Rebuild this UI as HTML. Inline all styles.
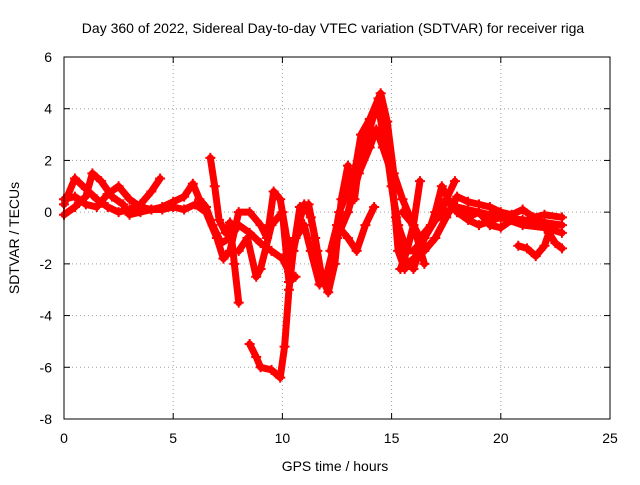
<!DOCTYPE html>
<html><head><meta charset="utf-8"><style>
body{margin:0;background:#fff;}
svg text{font-family:"Liberation Sans",sans-serif;font-size:14px;fill:#000;}
</style></head><body>
<svg id="chart" width="640" height="480" xmlns="http://www.w3.org/2000/svg">
<text x="333" y="33" text-anchor="middle">Day 360 of 2022, Sidereal Day-to-day VTEC variation (SDTVAR) for receiver riga</text>
<text x="335" y="471" text-anchor="middle">GPS time / hours</text>
<text transform="translate(19,238) rotate(-90)" text-anchor="middle">SDTVAR / TECUs</text>
<g id="grid"></g><g id="ticks"></g><g id="series"></g>
<rect x="64" y="57" width="546" height="362" fill="none" stroke="#000" stroke-width="1"/>
</svg>
<script>
const xTicks=[0,5,10,15,20,25];
const yTicks=[6,4,2,0,-2,-4,-6,-8];
const trackA=[[0,0.3],[0.5,1.3],[1,0.9],[1.5,0.5],[2,0.2],[2.5,0],[3,0.1],[3.5,0.3],[4,0.8],[4.4,1.3]];
const trackB=[[0,-0.1],[0.5,0.2],[1,0.6],[1.3,1.5],[1.7,1.2],[2.2,0.6],[2.7,0.3],[3,-0.1],[3.5,0],[4,0.1],[4.5,0.2],[5,0.4],[5.5,0.6],[5.9,1.1],[6.2,0.5],[6.5,0.2],[6.8,-0.5],[7.2,-1.2],[7.6,-1.0],[8,-0.5],[8.5,-0.8],[9,-1.2],[9.5,-1.5],[10,-1.8],[10.3,-2.3],[10.6,-1.0],[11,-0.5],[11.3,-1.5],[11.7,-2.8],[12,-2.5],[12.3,-1.5],[12.6,0],[13,0.8],[13.5,2.0],[14,3.2],[14.4,4.4],[14.7,3.0],[15,1.0],[15.3,-0.5],[15.7,-1.5],[16,-1.5],[16.5,-1.0],[17,-0.3],[17.5,0],[18,0.2],[19,0],[20,-0.2],[21,-0.3],[22,-0.4],[22.8,-0.5]];
const trackC=[[0,0.5],[0.5,0.6],[1,0.3],[1.5,0.2],[2,0.7],[2.5,1.0],[3,0.5],[3.5,0.2],[4,0.1],[4.5,0.1],[5,0.2],[5.5,0.1],[6,0.3],[6.5,0],[7,-1.0],[7.3,-1.8],[7.6,-1.5],[8,0],[8.5,0],[9,-0.5],[9.3,-1.0],[9.6,0.8],[9.9,0.5],[10.2,-1.0],[10.5,-1.5],[10.8,0.2],[11.2,0.3],[11.5,-1.0],[11.8,-2.5],[12.1,-3.1],[12.4,-2.0],[12.7,0.5],[13,1.8],[13.3,0.5],[13.6,2.5],[14,3.5],[14.4,4.0],[14.8,2.2],[15.2,-0.2],[15.6,-1.8],[16,-2.2],[16.4,-1.2],[16.8,-0.5],[17.2,0.2],[17.6,0.4],[18,0],[18.5,-0.3],[19,-0.5],[20,-0.2],[21,-0.5],[22,-0.6],[22.8,-0.8]];
const trackD=[[8.5,-5.1],[8.8,-5.6],[9,-6.0],[9.5,-6.1],[9.9,-6.4],[10.1,-5.2],[10.3,-3.0],[10.5,-1.5],[10.8,-0.3],[11,0.3],[11.3,-0.2],[11.6,-1.5]];
const trackE=[[6.7,2.1],[6.9,1.0],[7.1,-0.3],[7.4,-0.8],[7.6,-0.4],[7.8,-2.0],[8.0,-3.5]];
const trackF=[[8,-1.5],[8.4,-1.0],[8.8,-2.5],[9,-2.2],[9.5,-0.5],[10,0],[10.3,-2.7],[10.6,-2.5]];
const trackG=[[12.5,-1.0],[13,0],[13.5,1.5],[14,2.5],[14.3,3.2],[14.6,2.5],[15,1.5],[15.3,-1.5],[15.6,-2.2],[16,-1.8],[16.5,-1.5],[17,-1.0],[17.5,-0.2],[18,0.6],[18.5,0.4],[19,0.3],[19.5,0.2],[20,0],[20.5,-0.1],[21,0.1],[21.5,-0.2],[22,-0.1],[22.8,-0.2]];
const trackH=[[15.5,0],[16,-0.5],[16.3,-1],[16.8,-0.5],[17,0],[17.3,1.0],[17.6,0.5],[18,0],[18.5,-0.2],[19,0],[19.5,-0.5],[20,-0.6],[20.5,-0.3]];
const trackI=[[20.8,-1.3],[21.2,-1.4],[21.6,-1.7],[22,-1.3],[22.2,-0.8],[22.5,-1.2],[22.8,-1.4]];
const trackJ=[[13.2,1.0],[13.6,3.0],[14,3.6],[14.5,4.6],[14.8,3.5],[15.1,1.5],[15.5,0.5],[16,-0.5],[16.5,-2.0]];
const trackK=[[12.2,-1.5],[12.5,-0.5],[13,-1.0],[13.4,-1.5],[13.8,-0.5],[14.2,0.2]];
const trackL=[[15.4,-2.2],[15.7,-1.5],[16,-0.5],[16.3,1.2]];
const trackM=[[16.5,-1.0],[17,-0.3],[17.5,0.5],[17.9,1.2]];
const tracks=[trackA,trackB,trackC,trackD,trackE,trackF,trackG,trackH,trackI,trackJ,trackK,trackL,trackM];

const NS="http://www.w3.org/2000/svg";
const X0=64,X1=610,Y0=419,Y1=57,xmin=0,xmax=25,ymin=-8,ymax=6;
function sx(v){return X0+(v-xmin)/(xmax-xmin)*(X1-X0);}
function sy(v){return Y0-(v-ymin)/(ymax-ymin)*(Y0-Y1);}
function mk(tag,attrs,parent){const e=document.createElementNS(NS,tag);for(const k in attrs)e.setAttribute(k,attrs[k]);parent.appendChild(e);return e;}
const grid=document.getElementById('grid'),ticks=document.getElementById('ticks'),series=document.getElementById('series');
xTicks.forEach(t=>{
  const x=sx(t);
  if(t>xmin&&t<xmax){const g=mk('line',{x1:x,x2:x,y1:Y1,y2:Y0,stroke:'#a0a0a0','stroke-dasharray':'1,3'},grid);
  
  }
  mk('line',{x1:x,x2:x,y1:Y0,y2:Y0-6,stroke:'#000'},ticks);
  mk('line',{x1:x,x2:x,y1:Y1,y2:Y1+6,stroke:'#000'},ticks);
  const l=mk('text',{x:x,y:443,'text-anchor':'middle'},ticks);l.textContent=t;
  
  
});
yTicks.forEach(t=>{
  const y=sy(t);
  if(t>ymin&&t<ymax){const g=mk('line',{x1:X0,x2:X1,y1:y,y2:y,stroke:'#a0a0a0','stroke-dasharray':'1,3'},grid);
  
  }
  mk('line',{x1:X0,x2:X0+6,y1:y,y2:y,stroke:'#000'},ticks);
  mk('line',{x1:X1,x2:X1-6,y1:y,y2:y,stroke:'#000'},ticks);
  const l=mk('text',{x:52,y:y+5,'text-anchor':'end'},ticks);l.textContent=t;
  
  
});
tracks.forEach((tr,i)=>{
  const pts=tr.map(p=>sx(p[0])+','+sy(p[1])).join(' ');
  const pl=mk('polyline',{points:pts,fill:'none',stroke:'#ff0000','stroke-width':7,'stroke-linejoin':'round','stroke-linecap':'round'},series);
  
  
  tr.forEach(p=>{
    const x=sx(p[0]),y=sy(p[1]);
    const m=mk('path',{d:`M${x-5},${y}H${x+5}M${x},${y-5}V${y+5}`,stroke:'#ff0000','stroke-width':2},series);
    
    
  });
});
</script>
</body></html>
